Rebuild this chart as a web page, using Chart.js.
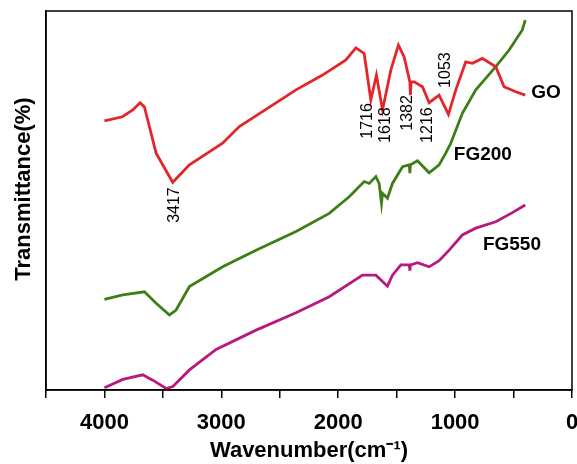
<!DOCTYPE html>
<html>
<head>
<meta charset="utf-8">
<script src="https://cdn.jsdelivr.net/npm/chart.js@4"></script>
<style>
  html, body { margin: 0; padding: 0; background: #fff; }
  #wrap { width: 577px; height: 464px; }
</style>
</head>
<body>
<div id="wrap"><canvas id="myChart" width="577" height="464"></canvas></div>
<script>
// FTIR spectra, values (transmittance in arbitrary units, 0-100)
var goWn = [4000, 3846, 3758, 3695, 3658, 3558, 3416, 3273, 2989, 2846, 2361, 2134, 1934, 1849, 1778, 1721, 1673, 1621, 1550, 1485, 1436, 1387, 1382, 1376, 1350, 1279, 1222, 1137, 1057, 994, 909, 852, 767, 652, 581, 481, 400];
var goT = [71.0, 72.1, 73.9, 75.8, 74.7, 62.5, 54.8, 59.4, 65.1, 69.5, 79.2, 83.1, 87.1, 90.3, 88.8, 76.5, 83.1, 73.9, 84.4, 91.0, 87.9, 81.3, 77.8, 81.3, 81.3, 80.0, 75.8, 77.8, 72.7, 79.2, 86.6, 86.2, 87.5, 85.3, 80.0, 78.7, 77.8];

var fg200Wn = [4000, 3843, 3658, 3558, 3444, 3387, 3273, 2989, 2703, 2361, 2077, 1906, 1778, 1735, 1678, 1650, 1630, 1621, 1579, 1536, 1450, 1392, 1387, 1382, 1322, 1222, 1137, 1080, 1037, 938, 823, 652, 538, 425, 400];
var fg200T = [23.9, 25.1, 25.9, 22.9, 19.8, 21.1, 27.3, 32.5, 36.9, 41.8, 46.6, 51.0, 55.0, 54.5, 56.3, 54.5, 49.3, 51.9, 50.6, 54.5, 58.9, 59.4, 57.2, 59.4, 60.5, 57.3, 59.4, 62.5, 65.1, 73.0, 79.2, 85.3, 89.7, 95.0, 97.6];

var fg550Wn = [4000, 3843, 3672, 3587, 3472, 3415, 3273, 3045, 2703, 2361, 2077, 1792, 1678, 1621, 1579, 1536, 1464, 1392, 1387, 1382, 1322, 1222, 1137, 1051, 938, 823, 652, 510, 400];
var fg550T = [0.6, 2.8, 4.0, 2.6, 0.4, 0.9, 5.3, 10.7, 15.8, 20.4, 24.6, 30.3, 30.3, 28.6, 27.4, 30.3, 33.0, 33.0, 31.5, 33.0, 33.6, 32.5, 34.1, 36.9, 40.9, 42.7, 44.4, 46.8, 48.8];

// peak labels (rotated) and series names
var peakText = ['3417', '1716', '1618', '1382', '1216', '1053'];
var peakWn = [3400, 1753, 1594, 1406, 1234, 1080];
var peakT = [48.8, 71.0, 69.9, 73.1, 69.9, 84.4];

var nameText = ['GO', 'FG200', 'FG550'];
var nameWn = [223, 763, 514];
var nameT = [78.4, 62.0, 38.3];

function toPoints(xs, ys) {
    return xs.map(function (x, i) { return { x: x, y: ys[i] }; });
}

var fontFam = "'Liberation Sans', Arial, sans-serif";
Chart.defaults.font.family = fontFam;
Chart.defaults.color = '#000';

var labelsPlugin = {
    id: 'labels',
    afterDraw: function (chart) {
        var ctx = chart.ctx;
        var xs = chart.scales.x, ys = chart.scales.y;
        var a = chart.chartArea;
        ctx.save();
        // frame round the plot
        ctx.strokeStyle = '#000';
        ctx.lineWidth = 1.5;
        ctx.strokeRect(a.left, a.top, a.right - a.left, a.bottom - a.top);

        ctx.fillStyle = '#000';
        ctx.textAlign = 'center';
        ctx.textBaseline = 'middle';

        // y axis title, sits a little above the middle
        ctx.save();
        ctx.font = 'bold 22px ' + fontFam;
        ctx.translate(24, 189);
        ctx.rotate(-Math.PI / 2);
        ctx.fillText('Transmittance(%)', 0, 0);
        ctx.restore();

        ctx.font = '16px ' + fontFam;
        for (var i = 0; i < peakText.length; i++) {
            ctx.save();
            ctx.translate(xs.getPixelForValue(peakWn[i]), ys.getPixelForValue(peakT[i]));
            ctx.rotate(-Math.PI / 2);
            ctx.fillText(peakText[i], 0, 0);
            ctx.restore();
        }
        ctx.font = 'bold 19px ' + fontFam;
        for (var j = 0; j < nameText.length; j++) {
            ctx.fillText(nameText[j], xs.getPixelForValue(nameWn[j]), ys.getPixelForValue(nameT[j]));
        }
        ctx.restore();
    }
};

var ctx = document.getElementById('myChart').getContext('2d');
var chart = new Chart(ctx, {
    type: 'line',
    data: {
        datasets: [{
            label: 'GO',
            data: toPoints(goWn, goT),
            borderColor: '#e3262b',
            borderWidth: 2.8,
            pointRadius: 0,
            tension: 0
        }, {
            label: 'FG200',
            data: toPoints(fg200Wn, fg200T),
            borderColor: '#3d7e17',
            borderWidth: 2.8,
            pointRadius: 0,
            tension: 0
        }, {
            label: 'FG550',
            data: toPoints(fg550Wn, fg550T),
            borderColor: '#b8197f',
            borderWidth: 2.8,
            pointRadius: 0,
            tension: 0
        }]
    },
    options: {
        responsive: false,
        animation: false,
        layout: { padding: { top: 11, right: 5, left: 0, bottom: 0 } },
        plugins: {
            legend: { display: false },
            tooltip: { enabled: false }
        },
        scales: {
            x: {
                type: 'linear',
                reverse: true,
                min: 0,
                max: 4500,
                grid: {
                    display: true,
                    drawOnChartArea: false,
                    drawTicks: true,
                    tickLength: 8,
                    color: '#000',
                    lineWidth: 1.5
                },
                border: { display: true, color: '#000', width: 1.5 },
                ticks: {
                    stepSize: 500,
                    autoSkip: false,
                    maxRotation: 0,
                    padding: 12,
                    font: { size: 22, weight: 'bold' },
                    callback: function (v) { return v % 1000 === 0 ? String(v) : ''; }
                },
                title: {
                    display: true,
                    text: 'Wavenumber(cm\u207B\u00B9)',
                    font: { size: 22, weight: 'bold' },
                    padding: { top: 0, bottom: 0 }
                },
                afterFit: function (s) {
                    s.height = 74;
                    // let the "0" label hang off the right edge like the original
                    s.paddingLeft = 0;
                    s.paddingRight = 0;
                }
            },
            y: {
                min: 0,
                max: 100,
                grid: { display: false },
                border: { display: true, color: '#000', width: 1.5 },
                ticks: { display: false },
                title: { display: false },
                afterFit: function (s) { s.width = 46; }
            }
        }
    },
    plugins: [labelsPlugin]
});
</script>
</body>
</html>
